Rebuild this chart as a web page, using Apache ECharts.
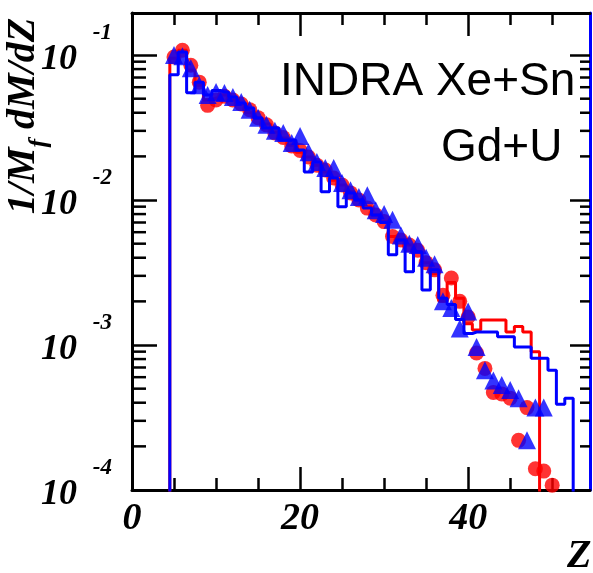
<!DOCTYPE html>
<html><head><meta charset="utf-8">
<script src="https://cdn.jsdelivr.net/npm/echarts@6/dist/echarts.min.js"></script>
<style>html,body{margin:0;padding:0;background:#fff}#c{width:593px;height:573px}</style>
</head><body><div id="c"></div>
<script>
// ---- data ----
const redPtsZ = [5,6,7,8,9,10,11,12,13,14,15,16,17,18,19,20,21,22,23,24,25,26,27,28,29,30,31,32,33,34,35,36,37,38,39,40,41,42,43,44,45,46,47,48,49,50];
const redPtsV = [0.097,0.108,0.085,0.065,0.045,0.049,0.052,0.049,0.046,0.042,
                 0.037,0.033,0.029,0.027,0.0236,0.022,0.0198,0.0174,0.0161,0.0142,
                 0.0127,0.0112,0.0100,0.0088,0.0079,0.0071,0.0056,0.0053,0.0049,0.0045,
                 0.0037,0.0033,0.0022,0.0029,0.0020,0.00156,0.00088,0.00069,0.00047,0.00046,
                 0.00043,0.00022,0.00037,0.00014,0.000135,0.000108];
const bluePtsZ = [5,6,7,8,9,10,11,12,13,14,15,16,17,18,19,20,21,22,23,24,25,26,27,28,29,30,31,32,33,34,35,36,37,38,39,40,41,42,43,44,45,46,47,48,49];
const bluePtsV = [0.100,0.098,0.081,0.062,0.053,0.0556,0.0547,0.0513,0.0474,0.042,
                  0.037,0.033,0.030,0.029,0.0247,0.0276,0.0214,0.0183,0.0166,0.0166,
                  0.0131,0.0117,0.0105,0.0108,0.0085,0.0080,0.0073,0.0057,0.0050,0.0049,
                  0.0040,0.0036,0.0020,0.0018,0.0013,0.0017,0.00097,0.00067,0.00057,0.00053,
                  0.00049,0.00043,0.00022,0.00037,0.00037];
const redHistZ = [4,5,6,7,8,9,10,11,12,13,14,15,16,17,18,19,20,21,22,23,24,25,26,27,28,29,30,31,32,33,34,35,36,37,38,39,40,41,42,43,44,45,46,47,48,49];
const redHistV = [1e-7,
                  0.095,0.108,0.079,0.062,0.049,0.0505,0.053,0.049,0.046,0.040,
                  0.0368,0.0334,0.0294,0.0268,0.0239,0.0214,0.0198,0.0174,0.0156,0.0137,
                  0.0127,0.0114,0.0100,0.0090,0.0079,0.0071,0.0056,0.0053,0.0049,0.0044,
                  0.0037,0.0031,0.0020,0.0027,0.0021,0.0014,0.00127,0.00149,0.00149,0.00149,
                  0.00123,0.00134,0.00123,0.00090,
                  1e-7];
const blueHistZ = [4,5,6,7,8,9,10,11,12,13,14,15,16,17,18,19,20,21,22,23,24,25,26,27,28,29,30,31,32,33,34,35,36,37,38,39,40,41,42,43,44,45,46,47,48,49,50,51,52,53];
const blueHistV = [1e-7,
                   0.073,0.105,0.055,0.065,0.053,0.057,0.0556,0.0513,0.0467,0.0431,
                   0.0368,0.0314,0.0314,0.0259,0.0259,0.0221,0.0156,0.0183,0.0114,0.0142,
                   0.0090,0.0112,0.0100,0.0088,0.0079,0.0070,0.0042,0.0053,0.0032,0.0044,
                   0.0024,0.0033,0.0021,0.0019,0.0015,0.0012,0.00123,0.00123,0.00123,0.00114,
                   0.00114,0.00097,0.00097,0.00081,0.00081,0.00067,0.00039,0.00043,
                   1e-7];
const xMajorTicks = [0, 20, 40];
const xTickLabels = ['0', '20', '40'];
const yMajorTicks = [1e-4, 1e-3, 1e-2, 1e-1];
const yTickExponents = ['-4', '-3', '-2', '-1'];
const yMinorTicks = [2e-4,3e-4,4e-4,5e-4,6e-4,7e-4,8e-4,9e-4,
                     2e-3,3e-3,4e-3,5e-3,6e-3,7e-3,8e-3,9e-3,
                     2e-2,3e-2,4e-2,5e-2,6e-2,7e-2,8e-2,9e-2];

const X_MIN = 0, X_MAX = 54.5, Y_MIN = 1e-4, Y_MAX = 0.195;
const SERIF = "'Liberation Serif', 'DejaVu Serif', serif";
const SANS = "'Liberation Sans', Arial, sans-serif";
const pairs = (zs, vs) => zs.map((z, i) => [z, vs[i]]);

const chart = echarts.init(document.getElementById('c'), null, {renderer: 'canvas'});

function xAxisDef(pos, labels) {
  return {
    type: 'value', position: pos, min: X_MIN, max: X_MAX, interval: 20, show: true,
    axisLine: {show: true, onZero: false, lineStyle: {color: '#000', width: 3}},
    axisTick: {show: true, inside: true, length: 23, customValues: xMajorTicks, lineStyle: {color: '#000', width: 2.5}},
    minorTick: {show: true, splitNumber: 4, length: 12, lineStyle: {color: '#000', width: 2.5}},
    splitLine: {show: false}, minorSplitLine: {show: false},
    axisLabel: labels ? {
      customValues: xMajorTicks,
      formatter: v => { const i = xMajorTicks.indexOf(v); return i >= 0 ? xTickLabels[i] : ''; },
      margin: 10, color: '#000', fontFamily: SERIF, fontWeight: 'bold', fontStyle: 'italic',
      fontSize: 38, lineHeight: 38
    } : {show: false}
  };
}

chart.setOption({
  animation: false,
  backgroundColor: '#fff',
  grid: {left: 132, right: 3, top: 13, bottom: 83, containLabel: false, outerBoundsMode: 'none'},
  xAxis: [xAxisDef('bottom', true), xAxisDef('top', false)],
  yAxis: [
    {
      type: 'log', logBase: 10, min: Y_MIN, max: Y_MAX, position: 'left',
      splitLine: {show: false}, minorTick: {show: false},
      axisLine: {show: true, onZero: false, lineStyle: {color: '#000', width: 3}},
      axisTick: {show: true, inside: true, length: 25, customValues: yMajorTicks, lineStyle: {color: '#000', width: 2.5}},
      axisLabel: {
        customValues: yMajorTicks,
        margin: 20,
        padding: [0, 0, 17, 0],
        formatter: v => {
          let best = -1, bd = 1e9;
          yMajorTicks.forEach((t, i) => { const d = Math.abs(Math.log10(v) - Math.log10(t)); if (d < bd) { bd = d; best = i; } });
          if (bd > 1e-6) return '';
          return '{e|' + yTickExponents[best] + '}\n{b|10}';
        },
        rich: {
          e: {fontFamily: SERIF, fontWeight: 'bold', fontStyle: 'italic', fontSize: 23, lineHeight: 27, color: '#000'},
          b: {fontFamily: SERIF, fontWeight: 'bold', fontStyle: 'italic', fontSize: 36, lineHeight: 27, color: '#000', padding: [0, 35, 0, 0]}
        }
      }
    },
    {
      type: 'log', logBase: 10, min: Y_MIN, max: Y_MAX, position: 'right',
      splitLine: {show: false}, minorTick: {show: false},
      axisLine: {show: true, onZero: false, lineStyle: {color: '#0000ff', width: 3}},
      axisTick: {show: true, inside: true, length: 20, customValues: yMajorTicks, lineStyle: {color: '#000', width: 2.5}},
      axisLabel: {show: false}
    }
  ],
  series: [
    {
      name: 'Xe+Sn histogram', type: 'line', step: 'middle', showSymbol: false, symbol: 'none',
      data: pairs(redHistZ, redHistV), clip: true,
      lineStyle: {color: '#ff0000', width: 3}, z: 2
    },
    {
      name: 'Xe+Sn', type: 'scatter', symbol: 'circle', symbolSize: 15,
      data: pairs(redPtsZ, redPtsV), itemStyle: {color: '#ff0000'}, z: 3
    },
    {
      name: 'Gd+U histogram', type: 'line', step: 'middle', showSymbol: false, symbol: 'none',
      data: pairs(blueHistZ, blueHistV), clip: true,
      lineStyle: {color: '#0000ff', width: 3}, z: 4
    },
    {
      name: 'Gd+U', type: 'scatter', symbol: 'triangle', symbolSize: 18,
      data: pairs(bluePtsZ, bluePtsV), itemStyle: {color: '#0000ff'}, z: 5
    },
    {
      name: 'minor ticks', type: 'custom', silent: true, z: 6,
      data: yMinorTicks.map(v => [X_MIN, v]),
      encode: {x: 0, y: 1},
      renderItem: (params, api) => {
        const v = api.value(1);
        const pl = api.coord([X_MIN, v]);
        const pr = api.coord([X_MAX, v]);
        return {
          type: 'group',
          children: [
            {type: 'line', shape: {x1: pl[0], y1: pl[1], x2: pl[0] + 14, y2: pl[1]}, style: {stroke: '#000', lineWidth: 2.5}},
            {type: 'line', shape: {x1: pr[0] - 10, y1: pr[1], x2: pr[0], y2: pr[1]}, style: {stroke: '#000', lineWidth: 2.5}}
          ]
        };
      }
    }
  ],
  graphic: [
    {type: 'text', x: 24, y: 116, rotation: Math.PI / 2,
     style: {text: '{a|1/M}{s|f}{a| dM/dZ}', align: 'center', verticalAlign: 'middle',
       rich: {
         a: {fontFamily: SERIF, fontWeight: 'bold', fontStyle: 'italic', fontSize: 40, lineHeight: 40, verticalAlign: 'top', fill: '#000'},
         s: {fontFamily: SERIF, fontWeight: 'bold', fontStyle: 'italic', fontSize: 26, lineHeight: 26, padding: [22, 0, 0, 0], verticalAlign: 'top', fill: '#000'}
       }}},
    {type: 'text', x: 567, y: 557,
     style: {text: 'Z', font: "italic bold 40px " + SERIF, fill: '#000', align: 'left', verticalAlign: 'middle'}},
    {type: 'text', x: 280, y: 82,
     style: {text: 'INDRA Xe+Sn', font: "46px " + SANS, fill: '#000', align: 'left', verticalAlign: 'middle'}},
    {type: 'text', x: 441, y: 148,
     style: {text: 'Gd+U', font: "46px " + SANS, fill: '#000', align: 'left', verticalAlign: 'middle'}}
  ]
});
</script>
</body></html>
